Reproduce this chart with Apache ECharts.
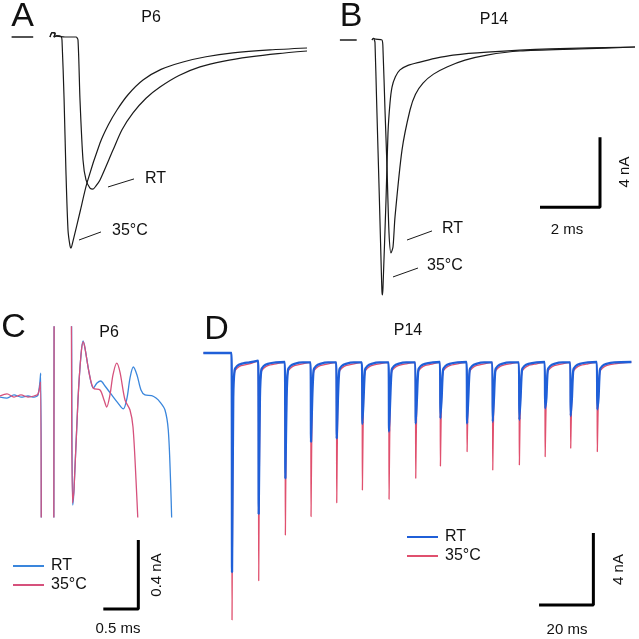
<!DOCTYPE html>
<html>
<head>
<meta charset="utf-8">
<script src="https://cdn.jsdelivr.net/npm/echarts@6/dist/echarts.min.js"></script>
<style>
html,body{margin:0;padding:0;background:#fff;}
#c{width:639px;height:639px;}
</style>
</head>
<body>
<div id="c"></div>
<script>
// ---------- Panel A (P6), time in ms, current in nA ----------
const panelA_RT = [[0,0],[0.07,0.25],[0.17,0.2],[0.13,0],[0.22,0.05],[0.5,0],[0.867,0],[0.933,-0.17],[1.0,-3.6],[1.1,-7.03],[1.2,-8.17],[1.333,-8.63],[1.433,-8.69],[1.533,-8.51],[1.667,-8.17],[2.1,-6.46],[2.4,-5.3],[2.767,-4.34],[3.2,-3.5],[3.667,-2.86],[4.3,-2.2],[5.0,-1.71],[5.8,-1.38],[6.667,-1.14],[7.6,-0.95],[8.567,-0.8]];
const panelA_35C = [[0,0],[0.07,0.25],[0.17,0.2],[0.13,0],[0.22,0.08],[0.37,0.03],[0.4,-0.17],[0.47,-3.6],[0.53,-7.6],[0.6,-11.03],[0.667,-11.94],[0.7,-12.06],[0.767,-11.66],[1.0,-10.0],[1.233,-8.34],[1.667,-6.06],[1.95,-5.0],[2.233,-4.17],[2.6,-3.3],[3.1,-2.46],[3.7,-1.85],[4.433,-1.43],[5.2,-1.13],[6.1,-0.91],[7.333,-0.74],[8.567,-0.63]];
const panelA_labelRT = [[1.933,-8.57],[2.8,-8.11]];
const panelA_label35 = [[0.967,-11.6],[1.7,-11.14]];
const panelA_zero = [[-1.28,0],[-0.56,0]];

// ---------- Panel B (P14) ----------
const panelB_RT = [[0,0],[0.05,0.1],[0.12,0.05],[0.333,0],[0.367,-0.57],[0.433,-4.0],[0.5,-7.26],[0.567,-11.03],[0.633,-12.17],[0.7,-11.83],[0.767,-10.11],[1.0,-6.29],[1.267,-4.0],[1.45,-3.1],[1.7,-2.46],[2.05,-1.95],[2.5,-1.54],[3.1,-1.15],[3.833,-0.86],[4.933,-0.63],[6.933,-0.51],[8.767,-0.4]];
const panelB_35C = [[0,0],[0.05,0.1],[0.08,0.0],[0.1,-0.15],[0.153,-3.43],[0.247,-9.14],[0.31,-13.14],[0.333,-14.4],[0.35,-14.57],[0.367,-14.11],[0.467,-9.14],[0.533,-5.31],[0.6,-3.6],[0.667,-2.69],[0.78,-2.1],[0.933,-1.71],[1.2,-1.45],[1.6,-1.26],[2.1,-1.05],[2.7,-0.86],[3.833,-0.69],[5.933,-0.51],[8.767,-0.4]];
const panelB_labelRT = [[1.167,-11.43],[2.0,-10.91]];
const panelB_label35 = [[0.7,-13.54],[1.533,-13.03]];
const panelB_zero = [[-1.07,0],[-0.51,0]];
const panelB_scale = [[5.6,-9.56],[7.6,-9.56],[7.6,-5.56]]; // 2 ms, 4 nA

// ---------- Panel C (P6, expanded) ----------
const panelC_RT = [[0,-0.006],[0.1,-0.012],[0.2,0.006],[0.3,-0.006],[0.4,0],[0.486,-0.006],[0.543,0.006],[0.581,0.133],[0.607,-2.34],[0.764,-2.34],[0.776,1.43],[0.979,1.43],[1.039,-0.632],[1.057,-0.545],[1.114,-0.023],[1.157,0.238],[1.186,0.319],[1.214,0.278],[1.271,0.139],[1.333,0.046],[1.386,0.075],[1.439,0.087],[1.5,0.058],[1.596,0.006],[1.686,-0.041],[1.761,-0.075],[1.814,-0.012],[1.857,0.104],[1.904,0.168],[1.957,0.122],[2.014,0.035],[2.071,0.006],[2.167,0.002],[2.229,-0.012],[2.286,-0.035],[2.357,-0.081],[2.404,-0.197],[2.436,-0.487],[2.457,-0.777]];
const panelC_35C = [[0,0],[0.1,0.012],[0.2,-0.006],[0.3,0.006],[0.4,-0.006],[0.486,0],[0.543,0.012],[0.579,0.081],[0.607,-2.34],[0.764,-2.34],[0.776,1.43],[0.979,1.43],[1.036,-0.62],[1.057,-0.545],[1.114,-0.023],[1.157,0.238],[1.19,0.313],[1.214,0.278],[1.271,0.139],[1.333,0.046],[1.429,0.035],[1.486,-0.023],[1.524,-0.064],[1.571,0.006],[1.614,0.122],[1.667,0.191],[1.714,0.139],[1.786,-0.023],[1.857,-0.081],[1.9,-0.18],[1.943,-0.487],[1.976,-0.777]];
const panelC_scale = [[1.476,-1.235],[1.976,-1.235],[1.976,-0.835]]; // 0.5 ms, 0.4 nA

// ---------- Panel D (P14, train) ----------
const dStimT = [0, 9.82, 19.64, 29.09, 38.55, 48, 57.82, 67.64, 76.73, 86.55, 96, 105.8, 115.3, 124.7, 134.5];
const dPeakRT = [-12.17, -8.94, -6.96, -4.93, -4.74, -3.94, -4.37, -3.91, -3.63, -3.91, -3.82, -3.72, -3.07, -3.5, -3.13];
const dPeak35C = [-14.83, -12.65, -10.11, -9.09, -8.32, -7.61, -8.13, -6.96, -6.28, -5.48, -6.5, -6.22, -5.76, -5.29, -5.48];
const dPreLevel = [0, -0.43, -0.5, -0.52, -0.52, -0.52, -0.52, -0.52, -0.5, -0.5, -0.52, -0.52, -0.5, -0.52, -0.5];
const dRecOffset = [0.6, 1.1, 2.0, 3.5, 6.5];
const dRecRT = [-2.5, -0.95, -0.72, -0.6, -0.52];
const dRec35C = [-2.0, -1.05, -0.85, -0.7, -0.6];
const dStart = [-10.4, 0];
const dEnd = [147.2, -0.5];
const panelD_scale = [[113.2,-14],[133.2,-14],[133.2,-10]]; // 20 ms, 4 nA

function buildTrain(peaks, rec) {
  const pts = [dStart.slice()];
  for (let i = 0; i < dStimT.length; i++) {
    pts.push([dStimT[i] - 0.05, dPreLevel[i]]);
    pts.push([dStimT[i] + 0.15, peaks[i]]);
    for (let j = 0; j < dRecOffset.length; j++) pts.push([dStimT[i] + dRecOffset[j], rec[j]]);
  }
  pts.push(dEnd.slice());
  return pts;
}

// ---------- layout helpers ----------
function gridFor(ox, oy, kx, ky, xr, yr) {
  return { left: ox + xr[0]*kx, top: oy - yr[1]*ky, width: (xr[1]-xr[0])*kx, height: (yr[1]-yr[0])*ky };
}
const AX = [-1.5, 9.2], AY = [-13, 1];
const BX = [-1.2, 8.8], BY = [-15, 1];
const CX = [0, 2.65], CY = [-0.7, 0.4];
const DX = [-11, 150], DY = [-15.5, 1];
const grids = [
  gridFor(50, 37, 30, 17.5, AX, AY),
  gridFor(372, 40, 30, 17.5, BX, BY),
  gridFor(0, 396, 70, 172.5, CX, CY),
  gridFor(232, 353, 2.75, 18, DX, DY)
];
const ranges = [[AX, AY], [BX, BY], [CX, CY], [DX, DY]];

const FONT = "'Liberation Sans', Arial, Helvetica, sans-serif";
const BLACK = '#1a1a1a';
const C_BLUE = '#3a86dc', C_PINK = '#d6517c';
const D_BLUE = '#1f5fd8', D_PINK = '#e0506e';

function line(name, g, data, color, width, extra) {
  return Object.assign({
    name: name, type: 'line', xAxisIndex: g, yAxisIndex: g, data: data,
    showSymbol: false, symbol: 'none', smooth: false, silent: true,
    lineStyle: { color: color, width: width }, itemStyle: { color: color },
    emphasis: { disabled: true }
  }, extra || {});
}

function txt(text, x, y, size, opts) {
  opts = opts || {};
  return {
    type: 'text', x: x, y: y, rotation: opts.rot || 0,
    style: { text: text, fontSize: size, fontFamily: FONT, fill: '#111',
      align: opts.align || 'center', verticalAlign: 'middle' }
  };
}

const legendCommon = {
  orient: 'vertical', padding: 0, icon: 'rect', itemWidth: 31, itemHeight: 2,
  itemGap: 3, selectedMode: false,
  textStyle: { fontSize: 16, fontFamily: FONT, color: '#111', padding: [0, 0, 0, 2] },
  formatter: n => n.split(' ')[0]
};

const chart = echarts.init(document.getElementById('c'), null, { renderer: 'canvas' });
chart.setOption({
  animation: false,
  backgroundColor: '#ffffff',
  grid: grids,
  xAxis: ranges.map((r, i) => ({ type: 'value', gridIndex: i, min: r[0][0], max: r[0][1], show: false })),
  yAxis: ranges.map((r, i) => ({ type: 'value', gridIndex: i, min: r[1][0], max: r[1][1], show: false })),
  legend: [
    Object.assign({}, legendCommon, { data: ['RT (C)', '35°C (C)'], left: 13, top: 558 }),
    Object.assign({}, legendCommon, { data: ['RT (D)', '35°C (D)'], left: 407, top: 529 })
  ],
  series: [
    line('RT (A)', 0, panelA_RT, BLACK, 1.2, { smooth: 0.25 }),
    line('35°C (A)', 0, panelA_35C, BLACK, 1.2, { smooth: 0.25 }),
    line('ptrRT (A)', 0, panelA_labelRT, BLACK, 1),
    line('ptr35 (A)', 0, panelA_label35, BLACK, 1),
    line('zero (A)', 0, panelA_zero, BLACK, 1.5, { clip: false }),

    line('RT (B)', 1, panelB_RT, BLACK, 1.2, { smooth: 0.25 }),
    line('35°C (B)', 1, panelB_35C, BLACK, 1.2, { smooth: 0.25 }),
    line('ptrRT (B)', 1, panelB_labelRT, BLACK, 1),
    line('ptr35 (B)', 1, panelB_label35, BLACK, 1),
    line('zero (B)', 1, panelB_zero, BLACK, 1.5, { clip: false }),
    line('scale (B)', 1, panelB_scale, '#000', 3, { clip: false }),

    line('RT (C)', 2, panelC_RT, C_BLUE, 1.3, { smooth: 0.3 }),
    line('35°C (C)', 2, panelC_35C, C_PINK, 1.3, { smooth: 0.3 }),
    line('scale (C)', 2, panelC_scale, '#000', 3, { clip: false }),

    line('35°C (D)', 3, buildTrain(dPeak35C, dRec35C), D_PINK, 1.3, { smooth: 0.2 }),
    line('RT (D)', 3, buildTrain(dPeakRT, dRecRT), D_BLUE, 2.3, { smooth: 0.2 }),
    line('scale (D)', 3, panelD_scale, '#000', 3, { clip: false })
  ],
  graphic: [
    txt('A', 22.5, 17, 34),
    txt('B', 351, 16.5, 34),
    txt('C', 13.5, 327.5, 34),
    txt('D', 216.5, 330, 34),
    txt('P6', 151, 17.5, 16),
    txt('P14', 494, 20, 16),
    txt('P6', 109, 332.5, 16),
    txt('P14', 408, 331, 16),
    txt('RT', 145, 179, 16, { align: 'left' }),
    txt('35°C', 112, 231, 16, { align: 'left' }),
    txt('RT', 442, 229, 16, { align: 'left' }),
    txt('35°C', 427, 266, 16, { align: 'left' }),
    txt('2 ms', 567, 230, 15),
    txt('4 nA', 625, 172, 15, { rot: Math.PI / 2 }),
    txt('0.5 ms', 118, 629, 15),
    txt('0.4 nA', 157, 575, 15, { rot: Math.PI / 2 }),
    txt('20 ms', 567, 630, 15),
    txt('4 nA', 618.5, 569.5, 15, { rot: Math.PI / 2 })
  ]
});
</script>
</body>
</html>
